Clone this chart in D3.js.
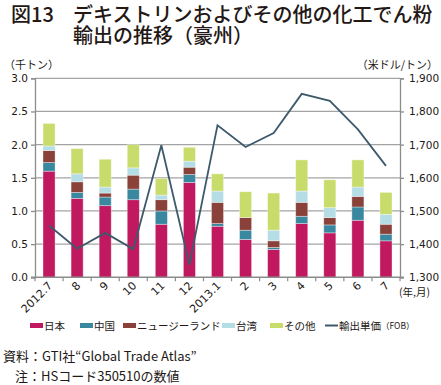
<!DOCTYPE html>
<html>
<head>
<meta charset="utf-8">
<script src="https://cdn.jsdelivr.net/npm/d3@7"></script>
<style>
  html, body { margin: 0; padding: 0; background: #fff; }
  svg { display: block; }
  text { font-family: "Noto Sans CJK JP", "DejaVu Sans", sans-serif; fill: #231815; }
  .num { font-family: "DejaVu Sans", sans-serif; }
</style>
</head>
<body>
<svg id="chart" width="441" height="385"></svg>
<script>
(function () {
  'use strict';

  var months = ['2012.7', '8', '9', '10', '11', '12', '2013.1', '2', '3', '4', '5', '6', '7'];
  var japan  = [1.60, 1.19, 1.08, 1.17, 0.80, 1.43, 0.77, 0.57, 0.42, 0.81, 0.67, 0.86, 0.55];
  var china  = [0.13, 0.09, 0.13, 0.16, 0.20, 0.12, 0.04, 0.14, 0.03, 0.11, 0.12, 0.20, 0.10];
  var nz     = [0.18, 0.16, 0.06, 0.21, 0.17, 0.11, 0.32, 0.19, 0.10, 0.21, 0.11, 0.16, 0.15];
  var taiwan = [0.07, 0.12, 0.09, 0.11, 0.07, 0.09, 0.17, 0.00, 0.16, 0.17, 0.15, 0.14, 0.15];
  var other  = [0.34, 0.38, 0.42, 0.35, 0.25, 0.21, 0.26, 0.39, 0.56, 0.47, 0.42, 0.41, 0.33];
  var unitPrice = [1456, 1386, 1434, 1385, 1698, 1338, 1758, 1693, 1735, 1853, 1832, 1746, 1636];

  var leftTicks  = [0, 0.5, 1.0, 1.5, 2.0, 2.5, 3.0];
  var rightTicks = [1300, 1400, 1500, 1600, 1700, 1800, 1900];

  var SERIES = [
    { key: 'japan',  name: '日本',             color: '#c0195f', values: japan },
    { key: 'china',  name: '中国',             color: '#3a87a0', values: china },
    { key: 'nz',     name: 'ニュージーランド', color: '#8a4139', values: nz },
    { key: 'taiwan', name: '台湾',             color: '#b5dde6', values: taiwan },
    { key: 'other',  name: 'その他',           color: '#c8dc6c', values: other }
  ];
  var LINE_COLOR = '#3d5a6c';

  var svg = d3.select('#chart');
  var L = 35, R = 400, T = 78.3, B = 277.3;

  var x = d3.scaleBand().domain(months).range([L, R]).paddingInner(0.57).paddingOuter(0.285);
  var yL = d3.scaleLinear().domain([0, 3]).range([B, T]);
  var yR = d3.scaleLinear().domain([1300, 1900]).range([B, T]);

  // ── Title ────────────────────────────────────────────────────────────────
  var title = svg.append('g').style('font-size', '20px').style('font-weight', 500);
  title.append('text').attr('x', 11).attr('y', 22).text('図13');
  title.append('text').attr('x', 73).attr('y', 22).text('デキストリンおよびその他の化工でん粉');
  title.append('text').attr('x', 73).attr('y', 43).text('輸出の推移（豪州）');

  // units
  svg.append('text').attr('x', 4).attr('y', 69).style('font-size', '11px').text('（千トン）');
  svg.append('text').attr('x', 438).attr('y', 69).attr('text-anchor', 'end')
    .style('font-size', '11px').text('（米ドル/トン）');

  // ── Grid ─────────────────────────────────────────────────────────────────
  svg.append('g').selectAll('line').data(leftTicks.slice(1)).join('line')
    .attr('x1', L).attr('x2', R)
    .attr('y1', function (d) { return yL(d); }).attr('y2', function (d) { return yL(d); })
    .attr('stroke', '#a3a3a3').attr('stroke-width', 1.3);

  // ── Bars ─────────────────────────────────────────────────────────────────
  var table = months.map(function (m, i) {
    var row = { month: m };
    SERIES.forEach(function (s) { row[s.key] = s.values[i]; });
    return row;
  });
  var stacked = d3.stack().keys(SERIES.map(function (s) { return s.key; }))(table);

  svg.append('g').selectAll('g').data(stacked).join('g')
    .attr('fill', function (d, i) { return SERIES[i].color; })
    .selectAll('rect').data(function (d) { return d; }).join('rect')
    .attr('x', function (d) { return x(d.data.month); })
    .attr('width', x.bandwidth())
    .attr('y', function (d) { return yL(d[1]); })
    .attr('height', function (d) { return Math.max(0, yL(d[0]) - yL(d[1])); })
    .attr('stroke', '#fff').attr('stroke-opacity', 0.45).attr('stroke-width', 0.8);

  // ── Axes ─────────────────────────────────────────────────────────────────
  var axisColor = '#8c8c8c';
  var left = svg.append('g').attr('transform', 'translate(' + L + ',0)')
    .call(d3.axisLeft(yL).tickValues(leftTicks).tickFormat(d3.format('.1f')).tickSize(4).tickPadding(3));
  var right = svg.append('g').attr('transform', 'translate(' + R + ',0)')
    .call(d3.axisRight(yR).tickValues(rightTicks).tickFormat(d3.format(',')).tickSize(4).tickPadding(5));
  [left, right].forEach(function (a) {
    a.select('.domain').attr('stroke', axisColor).attr('stroke-width', 1.3);
    a.selectAll('.tick line').attr('stroke', axisColor).attr('stroke-width', 1.3);
    a.selectAll('.tick text').attr('class', 'num').style('font-size', '10.5px').attr('fill', '#231815');
  });

  var bottom = svg.append('g');
  bottom.append('line').attr('x1', L - 4).attr('x2', R + 4).attr('y1', B).attr('y2', B)
    .attr('stroke', axisColor).attr('stroke-width', 1.5);
  var step = x.step();
  bottom.selectAll('line.tk').data(d3.range(months.length + 1)).join('line')
    .attr('class', 'tk')
    .attr('x1', function (i) { return L + i * step; }).attr('x2', function (i) { return L + i * step; })
    .attr('y1', B).attr('y2', B + 4)
    .attr('stroke', axisColor).attr('stroke-width', 1.2);
  bottom.selectAll('text').data(months).join('text')
    .attr('class', 'num')
    .attr('text-anchor', 'end')
    .attr('transform', function (d) {
      var cx = x(d) + x.bandwidth() / 2 + 4;
      return 'translate(' + cx + ',' + (B + 9) + ') rotate(-45)';
    })
    .style('font-size', '11px')
    .text(function (d) { return d; });
  svg.append('text').attr('x', 399).attr('y', 296).style('font-size', '10.5px').text('(年,月)');

  // ── Price line ───────────────────────────────────────────────────────────
  var line = d3.line()
    .x(function (d, i) { return x(months[i]) + x.bandwidth() / 2; })
    .y(function (d) { return yR(d); });
  svg.append('path').datum(unitPrice)
    .attr('d', line).attr('fill', 'none')
    .attr('stroke', LINE_COLOR).attr('stroke-width', 1.8).attr('stroke-linejoin', 'miter');

  // ── Legend ───────────────────────────────────────────────────────────────
  var legendX = [30, 80, 123, 222, 270];
  var lg = svg.append('g').style('font-size', '10.5px');
  SERIES.forEach(function (s, i) {
    lg.append('rect').attr('x', legendX[i]).attr('y', 323).attr('width', 13).attr('height', 5).attr('fill', s.color);
    lg.append('text').attr('x', legendX[i] + 14).attr('y', 329.5).text(s.name);
  });
  lg.append('line').attr('x1', 325).attr('x2', 338).attr('y1', 325.5).attr('y2', 325.5)
    .attr('stroke', LINE_COLOR).attr('stroke-width', 2);
  lg.append('text').attr('x', 339).attr('y', 329.5).text('輸出単価');
  lg.append('text').attr('x', 381).attr('y', 329).style('font-size', '8.5px').text('（FOB）');

  // ── Notes ────────────────────────────────────────────────────────────────
  var notes = svg.append('g').style('font-size', '13px');
  notes.append('text').attr('x', 3).attr('y', 361).text('資料：GTI社“Global Trade Atlas”');
  notes.append('text').attr('x', 15).attr('y', 381).text('注：HSコード350510の数値');
})();
</script>
</body>
</html>
